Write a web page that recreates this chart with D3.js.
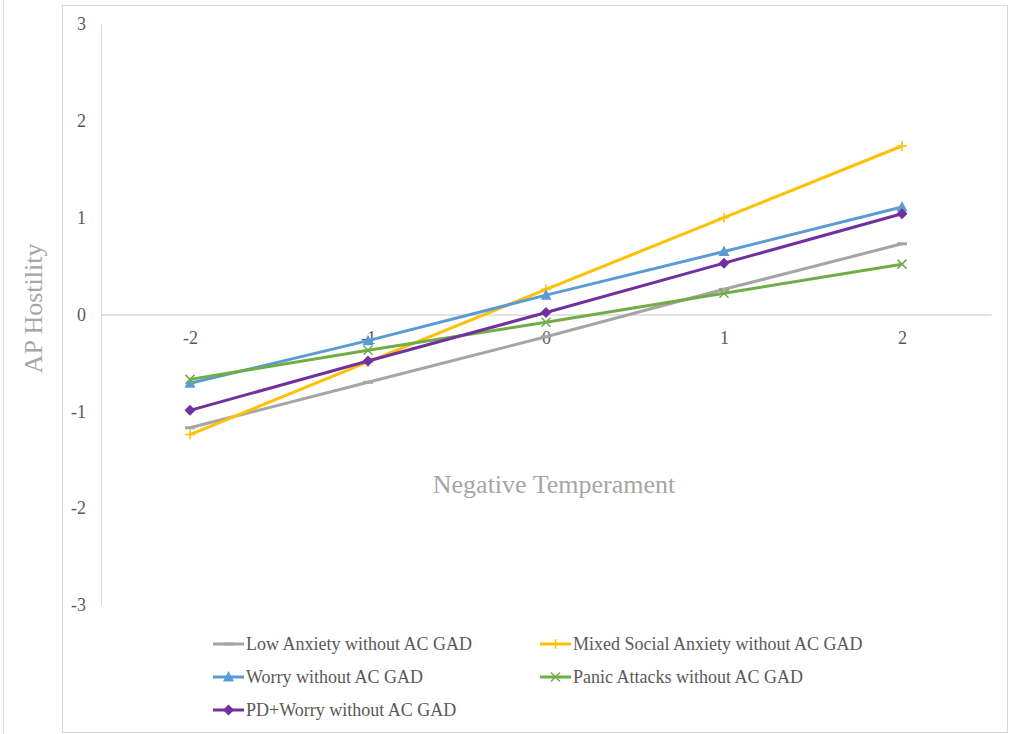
<!DOCTYPE html>
<html>
<head>
<meta charset="utf-8">
<script src="https://cdn.jsdelivr.net/npm/d3@7"></script>
<style>
  body { margin: 0; background: #fff; }
  svg text { font-family: "Liberation Serif", "Times New Roman", serif; }
</style>
</head>
<body>
<svg id="chart" width="1012" height="734"></svg>
<script>
// data

let categories = ["-2", "-1", "0", "1", "2"];
let yTicks = [-3, -2, -1, 0, 1, 2, 3];

let lowAnxiety = [-1.17, -0.70, -0.23, 0.26, 0.73];
let mixedSocial = [-1.24, -0.49, 0.26, 1.00, 1.74];
let worry = [-0.71, -0.27, 0.20, 0.65, 1.11];
let panicAttacks = [-0.67, -0.37, -0.08, 0.22, 0.52];
let pdWorry = [-0.99, -0.48, 0.02, 0.53, 1.04];

let seriesNames = [
  "Low Anxiety without AC GAD",
  "Mixed Social Anxiety without AC GAD",
  "Worry without AC GAD",
  "Panic Attacks without AC GAD",
  "PD+Worry without AC GAD"
];

let series = [
  {name: seriesNames[0], values: lowAnxiety, color: "#a5a5a5", marker: "dash"},
  {name: seriesNames[1], values: mixedSocial, color: "#ffc000", marker: "plus"},
  {name: seriesNames[2], values: worry, color: "#5b9bd5", marker: "triangle"},
  {name: seriesNames[3], values: panicAttacks, color: "#70ad47", marker: "cross"},
  {name: seriesNames[4], values: pdWorry, color: "#7030a0", marker: "diamond"}
];

// layout

let plotLeft = 101, plotRight = 991;
let plotTop = 24, plotBottom = 605;

let svg = d3.select("#chart");

// chart frame
svg.append("rect")
    .attr("x", 62.5).attr("y", 5.5)
    .attr("width", 945).attr("height", 727)
    .attr("fill", "none")
    .attr("stroke", "#d9d9d9");

svg.append("line")
    .attr("x1", 3.5).attr("x2", 3.5)
    .attr("y1", 0).attr("y2", 734)
    .attr("stroke", "#d9d9d9");

let x = d3.scalePoint()
    .domain(categories)
    .range([plotLeft, plotRight])
    .padding(0.5);

let y = d3.scaleLinear()
    .domain([-3, 3])
    .range([plotBottom, plotTop]);

// y axis
let yAxis = svg.append("g")
    .attr("transform", `translate(${plotLeft},0)`)
    .call(d3.axisLeft(y).tickValues(yTicks).tickSize(0).tickPadding(15).tickFormat(d => String(d)));

yAxis.select(".domain").attr("stroke", "#d9d9d9").attr("stroke-width", 1);
yAxis.selectAll("text")
    .attr("fill", "#595959")
    .style("font-size", "18px")
    .style("font-family", "'Liberation Serif', serif");

// x axis at zero
let xAxis = svg.append("g")
    .attr("transform", `translate(0,${y(0)})`)
    .call(d3.axisBottom(x).tickSize(0).tickPadding(17));

xAxis.select(".domain").attr("stroke", "#d9d9d9").attr("stroke-width", 1.5);
xAxis.selectAll("text")
    .attr("fill", "#595959")
    .style("font-size", "18px")
    .style("font-family", "'Liberation Serif', serif");

// axis titles
svg.append("text")
    .attr("transform", `translate(42,${y(0) - 6}) rotate(-90)`)
    .attr("text-anchor", "middle")
    .attr("fill", "#a6a6a6")
    .style("font-size", "26px")
    .text("AP Hostility");

svg.append("text")
    .attr("x", 554)
    .attr("y", 493)
    .attr("text-anchor", "middle")
    .attr("fill", "#a6a6a6")
    .style("font-size", "26px")
    .text("Negative Temperament");

// markers
function drawMarker(g, type, color) {
  if (type === "dash") {
    g.append("rect").attr("x", -5).attr("y", -1.5).attr("width", 10).attr("height", 3).attr("fill", color);
  } else if (type === "plus") {
    g.append("path").attr("d", "M-5,0H5M0,-5V5").attr("stroke", color).attr("stroke-width", 1.5);
  } else if (type === "triangle") {
    g.append("path").attr("d", "M0,-6L5.5,4.5H-5.5Z").attr("fill", color);
  } else if (type === "cross") {
    g.append("path").attr("d", "M-4.5,-4.5L4.5,4.5M4.5,-4.5L-4.5,4.5").attr("stroke", color).attr("stroke-width", 1.5);
  } else if (type === "diamond") {
    g.append("path").attr("d", "M0,-5.5L5.5,0L0,5.5L-5.5,0Z").attr("fill", color);
  }
}

let line = d3.line()
    .x((d, i) => x(categories[i]))
    .y(d => y(d));

let lines = svg.append("g").attr("class", "series");

series.forEach(s => {
  let g = lines.append("g");

  g.append("path")
      .attr("d", line(s.values))
      .attr("fill", "none")
      .attr("stroke", s.color)
      .attr("stroke-width", 3)
      .attr("stroke-linejoin", "round");

  s.values.forEach((v, i) => {
    let m = g.append("g").attr("transform", `translate(${x(categories[i])},${y(v)})`);
    drawMarker(m, s.marker, s.color);
  });
});

// legend
let legendPos = [
  [213, 644], [540, 644],
  [213, 677], [540, 677],
  [213, 710]
];

let legend = svg.append("g").attr("class", "legend");

series.forEach((s, i) => {
  let [lx, ly] = legendPos[i];
  let item = legend.append("g").attr("transform", `translate(${lx},${ly})`);

  item.append("line")
      .attr("x1", 0).attr("x2", 31)
      .attr("stroke", s.color)
      .attr("stroke-width", 3);

  drawMarker(item.append("g").attr("transform", "translate(15.5,0)"), s.marker, s.color);

  item.append("text")
      .attr("x", 33)
      .attr("y", 6)
      .attr("fill", "#595959")
      .style("font-size", "18px")
      .text(s.name);
});
</script>
</body>
</html>
